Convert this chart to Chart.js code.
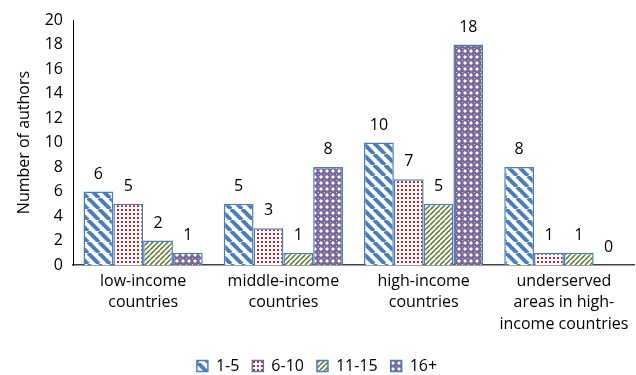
<!DOCTYPE html>
<html>
<head>
<meta charset="utf-8">
<script src="https://cdn.jsdelivr.net/npm/chart.js@4/dist/chart.umd.min.js"></script>
<style>
  html, body { margin: 0; padding: 0; background: #fff; }
  #wrap { width: 636px; height: 375px; position: relative; }
</style>
</head>
<body>
<div id="wrap"><canvas id="c"></canvas></div>
<script>
// Author counts by country income group and years of experience
const categories = [
  ['low-income', 'countries'],
  ['middle-income', 'countries'],
  ['high-income', 'countries'],
  ['underserved', 'areas in high-', 'income countries']
];
const seriesNames = ['1-5', '6-10', '11-15', '16+'];
const values1to5 = [6, 5, 10, 8];
const values6to10 = [5, 3, 7, 1];
const values11to15 = [2, 1, 5, 1];
const values16plus = [1, 8, 18, 0];
const yTicks = [0, 2, 4, 6, 8, 10, 12, 14, 16, 18, 20];

const FONT = '"Open Sans", "Noto Sans", sans-serif';
const FS = 16;
const BORDER = '#4a7ebb';

function tile(size, draw) {
  const c = document.createElement('canvas');
  c.width = size; c.height = size;
  const g = c.getContext('2d');
  draw(g, size);
  return g.createPattern(c, 'repeat');
}

// wide blue "\" stripes
const patStripes = tile(11, (g, s) => {
  g.fillStyle = '#fff'; g.fillRect(0, 0, s, s);
  g.strokeStyle = '#4a7ebb'; g.lineWidth = 4;
  for (let o = -s; o <= s; o += s) {
    g.beginPath(); g.moveTo(o, 0); g.lineTo(o + s, s); g.stroke();
  }
});
// small red dots
const patDots = tile(4, (g, s) => {
  g.fillStyle = '#fff'; g.fillRect(0, 0, s, s);
  g.fillStyle = '#e0191c'; g.fillRect(1, 1, 2, 2);
});
// thin olive "/" stripes
const patThin = tile(5, (g, s) => {
  g.fillStyle = '#f4f8ee'; g.fillRect(0, 0, s, s);
  g.strokeStyle = '#5b7035'; g.lineWidth = 1.4;
  for (let o = 0; o <= 2 * s; o += s) {
    g.beginPath(); g.moveTo(o, 0); g.lineTo(o - s, s); g.stroke();
  }
});
// purple lattice with light diamonds
const patLattice = tile(6, (g, s) => {
  g.fillStyle = '#7a6799'; g.fillRect(0, 0, s, s);
  g.fillStyle = '#ffffff';
  g.beginPath(); g.moveTo(3, 1); g.lineTo(5, 3); g.lineTo(3, 5); g.lineTo(1, 3); g.closePath(); g.fill();
  g.fillStyle = '#d9d2e6';
  g.fillRect(0, 0, 1, 1);
});

const fills = [patStripes, patDots, patThin, patLattice];
const seriesValues = [values1to5, values6to10, values11to15, values16plus];

const valueLabels = {
  id: 'valueLabels',
  afterDatasetsDraw(chart) {
    const ctx = chart.ctx;
    ctx.save();
    ctx.font = FS + 'px ' + FONT;
    ctx.fillStyle = '#000';
    ctx.textAlign = 'center';
    ctx.textBaseline = 'alphabetic';
    chart.data.datasets.forEach((ds, i) => {
      const meta = chart.getDatasetMeta(i);
      meta.data.forEach((bar, j) => {
        ctx.fillText(String(ds.data[j]), bar.x, bar.y - 13);
      });
    });
    ctx.restore();
  }
};

new Chart(document.getElementById('c'), {
  type: 'bar',
  data: {
    labels: categories,
    datasets: seriesNames.map((name, i) => ({
      label: name,
      data: seriesValues[i],
      backgroundColor: fills[i],
      borderColor: BORDER,
      borderWidth: 1.5,
      categoryPercentage: 0.85,
      barPercentage: 1.0
    }))
  },
  options: {
    responsive: true,
    maintainAspectRatio: false,
    animation: false,
    layout: { padding: { top: 20, right: 2, bottom: -9, left: 0 } },
    plugins: {
      legend: {
        position: 'bottom',
        labels: {
          font: { family: FONT, size: FS },
          color: '#000',
          boxWidth: 11,
          boxHeight: 11,
          padding: 13
        }
      },
      tooltip: { enabled: false }
    },
    scales: {
      x: {
        grid: { display: false, drawTicks: false },
        border: { color: '#404040', width: 1.5 },
        afterFit(scale) { scale.height = 80; },
        ticks: {
          font: { family: FONT, size: FS, lineHeight: 1.37 },
          color: '#000',
          padding: 5,
          maxRotation: 0,
          autoSkip: false
        }
      },
      y: {
        min: 0,
        max: 20,
        afterBuildTicks(scale) { scale.ticks = yTicks.map(v => ({ value: v })); },
        afterFit(scale) { scale.width = 73; },
        grid: { display: false, drawTicks: false },
        border: { color: '#000', width: 1 },
        ticks: {
          font: { family: FONT, size: FS },
          color: '#000',
          padding: 10
        },
        title: {
          display: true,
          text: 'Number of authors',
          font: { family: FONT, size: FS },
          color: '#000',
          padding: { top: 15, bottom: 0 }
        }
      }
    }
  },
  plugins: [valueLabels]
});
</script>
</body>
</html>
